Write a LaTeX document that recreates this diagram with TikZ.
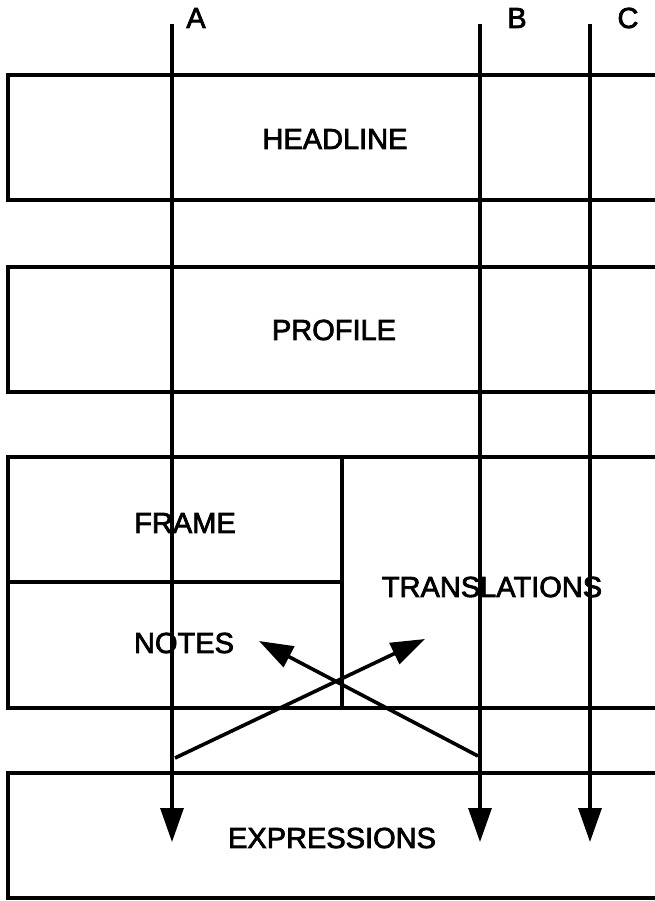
\documentclass[tikz,border=0pt]{standalone}
\usepackage{fontspec}
\setmainfont{Liberation Sans}
\newfontfamily\lblfont{Liberation Sans}[FakeBold=2.5]
\usetikzlibrary{arrows.meta}
\begin{document}
\begin{tikzpicture}[x=1pt,y=-1pt,
  line width=3.2pt,
  lbl/.style={font=\lblfont\fontsize{29}{30}\selectfont, inner sep=0pt},
  boxline/.style={line width=3.2pt, line join=miter},
  flow/.style={line width=3.2pt, -{Triangle[length=34pt,width=23pt]}},
  cross/.style={line width=3.6pt, -{Triangle[length=34pt,width=23pt]}}]
\useasboundingbox (0,0) rectangle (655,901);
\fill[white] (0,0) rectangle (655,901);

% boxes (open to the right)
\draw[boxline] (656,75) -- (8,75) -- (8,200) -- (656,200);
\draw[boxline] (656,267) -- (8,267) -- (8,392) -- (656,392);
\draw[boxline] (656,457) -- (8,457) -- (8,708) -- (656,708);
\draw[boxline] (342,457) -- (342,708);
\draw[boxline] (8,582) -- (342,582);
\draw[boxline] (656,773) -- (8,773) -- (8,898) -- (656,898);

% texts
\node[lbl] (headline) at (335,139) {HEADLINE};
\node[lbl] (profile) at (334,330) {PROFILE};
\node[lbl] (frame) at (185,523) {FRAME};
\node[lbl] (notes) at (184,643) {NOTES};
\node[lbl] (translations) at (492,587) {TRANSLATIONS};
\node[lbl] (expressions) at (332,838) {EXPRESSIONS};
\node[lbl] (la) at (196,18) {A};
\node[lbl] (lb) at (517,18) {B};
\node[lbl] (lc) at (628,18) {C};

% vertical flow lines
\coordinate (atop) at (172,24);
\coordinate (btop) at (480,24);
\coordinate (ctop) at (590,24);
\coordinate (aend) at (172,842);
\coordinate (bend) at (480,842);
\coordinate (cend) at (590,842);
\draw[flow] (atop) -- (aend);
\draw[flow] (btop) -- (bend);
\draw[flow] (ctop) -- (cend);

% crossing arrows
\coordinate (s1) at (175,758);
\coordinate (t1) at (425,639);
\coordinate (s2) at (478,756);
\coordinate (t2) at (259,641);
\draw[cross] (s1) -- (t1);
\draw[cross] (s2) -- (t2);
\end{tikzpicture}
\end{document}
